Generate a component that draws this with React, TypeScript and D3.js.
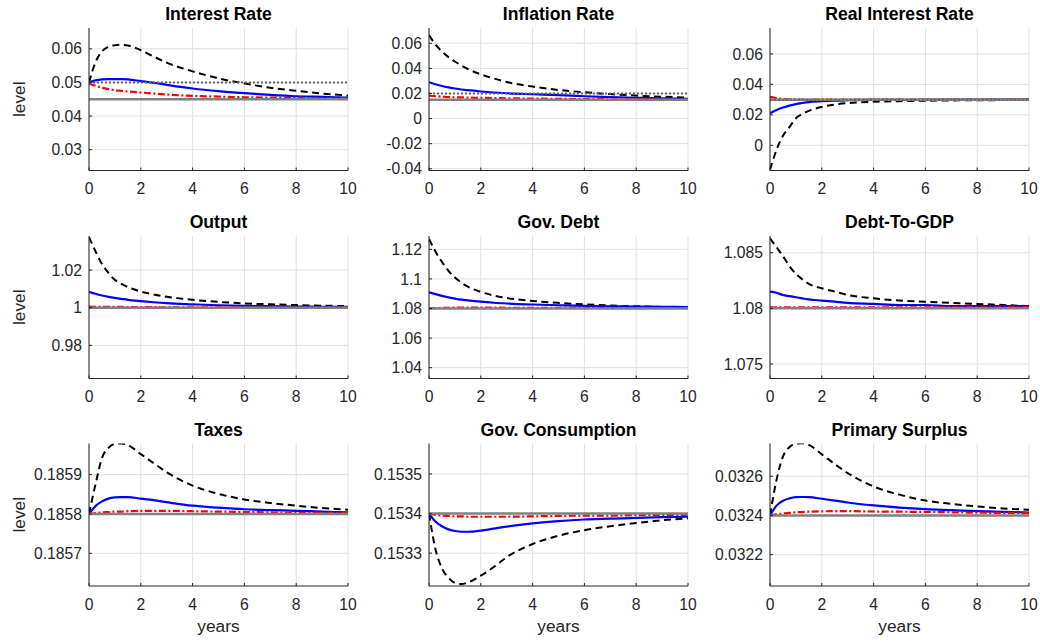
import React from "react";
import * as d3 from "d3";

// ---------- data ----------
const years = [0, 0.25, 0.5, 0.75, 1, 1.25, 1.5, 2, 2.5, 3, 4, 5, 6, 7, 8, 9, 10];
const xTicks = [0, 2, 4, 6, 8, 10];

const titles = [
  "Interest Rate", "Inflation Rate", "Real Interest Rate",
  "Output", "Gov. Debt", "Debt-To-GDP",
  "Taxes", "Gov. Consumption", "Primary Surplus",
];

const yLimits = [
  [0.0238, 0.0662], [-0.0414, 0.0722], [-0.0165, 0.077],
  [0.9624, 1.0381], [1.0327, 1.129], [1.0737, 1.0865],
  [0.185617, 0.185979], [0.153217, 0.153577], [0.03204, 0.032767],
];

const yTickValues = [
  [0.03, 0.04, 0.05, 0.06], [-0.04, -0.02, 0, 0.02, 0.04, 0.06], [0, 0.02, 0.04, 0.06],
  [0.98, 1, 1.02], [1.04, 1.06, 1.08, 1.1, 1.12], [1.075, 1.08, 1.085],
  [0.1857, 0.1858, 0.1859], [0.1533, 0.1534, 0.1535], [0.0322, 0.0324, 0.0326],
];
const yTickLabels = [
  ["0.03", "0.04", "0.05", "0.06"], ["-0.04", "-0.02", "0", "0.02", "0.04", "0.06"], ["0", "0.02", "0.04", "0.06"],
  ["0.98", "1", "1.02"], ["1.04", "1.06", "1.08", "1.1", "1.12"], ["1.075", "1.08", "1.085"],
  ["0.1857", "0.1858", "0.1859"], ["0.1533", "0.1534", "0.1535"], ["0.0322", "0.0324", "0.0326"],
];

const steadyState = [0.045, 0.015, 0.03, 1, 1.08, 1.08, 0.1858, 0.1534, 0.0324];
const targetLevel = [0.05, 0.02, 0.03, null, null, null, null, null, null];

// black dashed
const interestBlack = [0.05, 0.056, 0.0592, 0.0606, 0.0611, 0.0612, 0.061, 0.0596, 0.0577, 0.0559, 0.0533, 0.0512, 0.0497, 0.0484, 0.0475, 0.0467, 0.0461];
const inflationBlack = [0.0665, 0.059, 0.0535, 0.049, 0.0455, 0.0423, 0.0395, 0.0352, 0.032, 0.0292, 0.0255, 0.0228, 0.021, 0.0195, 0.0183, 0.0174, 0.0167];
const realBlack = [-0.016, -0.003, 0.0063, 0.012, 0.0178, 0.0205, 0.0226, 0.0252, 0.0268, 0.0277, 0.0286, 0.029, 0.0293, 0.0295, 0.0296, 0.0297, 0.0298];
const outputBlack = [1.0375, 1.03, 1.0232, 1.0185, 1.0148, 1.0127, 1.011, 1.0086, 1.007, 1.0058, 1.0042, 1.0031, 1.0023, 1.0018, 1.0014, 1.0011, 1.0009];
const debtBlack = [1.127, 1.1185, 1.1115, 1.1055, 1.101, 1.0975, 1.0948, 1.0912, 1.0888, 1.0871, 1.0851, 1.0838, 1.0828, 1.082, 1.0815, 1.0811, 1.0808];
const dgdpBlack = [1.0863, 1.0855, 1.0847, 1.0838, 1.0831, 1.0826, 1.0822, 1.0818, 1.0815, 1.0812, 1.0809, 1.0807, 1.0806, 1.0805, 1.0804, 1.0803, 1.0802];
const taxesBlack = [0.1858, 0.185875, 0.185942, 0.185968, 0.185978, 0.185979, 0.185975, 0.185952, 0.185929, 0.185906, 0.185872, 0.185851, 0.185837, 0.185828, 0.185821, 0.185815, 0.185811];
const govcBlack = [0.1534, 0.15331, 0.153262, 0.153238, 0.153225, 0.153222, 0.153226, 0.153243, 0.153265, 0.15329, 0.153323, 0.153344, 0.153358, 0.153368, 0.153376, 0.153383, 0.153388];
const surplusBlack = [0.0324, 0.03258, 0.0327, 0.032748, 0.032766, 0.032768, 0.03276, 0.032712, 0.032662, 0.032616, 0.032548, 0.032506, 0.032476, 0.032459, 0.032446, 0.032436, 0.032429];

// blue solid
const interestBlue = [0.05, 0.0506, 0.0509, 0.051, 0.051, 0.051, 0.0509, 0.0504, 0.0499, 0.0493, 0.0482, 0.0474, 0.0468, 0.0463, 0.0459, 0.0457, 0.0455];
const inflationBlue = [0.029, 0.0274, 0.026, 0.0249, 0.024, 0.0232, 0.0226, 0.0216, 0.0208, 0.0202, 0.0194, 0.0187, 0.0178, 0.0171, 0.0166, 0.0162, 0.0158];
const realBlue = [0.0211, 0.0232, 0.0248, 0.0261, 0.0271, 0.0278, 0.0284, 0.029, 0.0294, 0.0296, 0.0298, 0.0299, 0.0299, 0.03, 0.03, 0.03, 0.03];
const outputBlue = [1.0085, 1.0074, 1.0065, 1.0058, 1.0052, 1.0047, 1.0042, 1.0035, 1.0029, 1.0024, 1.0018, 1.0013, 1.001, 1.0008, 1.0006, 1.0005, 1.0004];
const debtBlue = [1.091, 1.0897, 1.0885, 1.0875, 1.0867, 1.086, 1.0855, 1.0846, 1.0839, 1.0834, 1.0827, 1.0822, 1.0818, 1.0815, 1.0813, 1.0811, 1.081];
const dgdpBlue = [1.0815, 1.0814, 1.0812, 1.0811, 1.081, 1.0809, 1.0808, 1.0807, 1.0806, 1.0805, 1.0804, 1.0803, 1.0803, 1.0802, 1.0802, 1.0802, 1.0802];
const taxesBlue = [0.1858, 0.18582, 0.185832, 0.185839, 0.185842, 0.185843, 0.185843, 0.185839, 0.185835, 0.18583, 0.185821, 0.185816, 0.185812, 0.18581, 0.185808, 0.185806, 0.185804];
const govcBlue = [0.1534, 0.15338, 0.153368, 0.15336, 0.153356, 0.153354, 0.153354, 0.153357, 0.153362, 0.153367, 0.153375, 0.153381, 0.153385, 0.153387, 0.153389, 0.153391, 0.153392];
const surplusBlue = [0.0324, 0.03245, 0.032475, 0.032487, 0.032493, 0.032494, 0.032493, 0.032485, 0.032476, 0.032466, 0.032451, 0.03244, 0.032432, 0.032427, 0.032422, 0.032418, 0.032415];

// red dash-dot
const interestRed = [0.0497, 0.049, 0.0484, 0.048, 0.0477, 0.0475, 0.0473, 0.047, 0.0467, 0.0464, 0.046, 0.0458, 0.0456, 0.0455, 0.0454, 0.0453, 0.0453];
const inflationRed = [0.0182, 0.0178, 0.0175, 0.0172, 0.017, 0.0169, 0.0167, 0.0165, 0.0163, 0.0162, 0.0159, 0.0157, 0.0155, 0.0154, 0.0153, 0.0152, 0.0152];
const realRed = [0.0318, 0.0309, 0.0304, 0.0302, 0.0301, 0.03, 0.03, 0.03, 0.03, 0.03, 0.03, 0.03, 0.03, 0.03, 0.03, 0.03, 0.03];
const outputRed = [1.0006, 1.0005, 1.0005, 1.0004, 1.0004, 1.0004, 1.0003, 1.0003, 1.0003, 1.0002, 1.0002, 1.0002, 1.0001, 1.0001, 1.0001, 1.0001, 1.0001];
const debtRed = [1.0802, 1.0803, 1.0804, 1.0805, 1.0806, 1.0806, 1.0806, 1.0806, 1.0806, 1.0805, 1.0805, 1.0804, 1.0804, 1.0803, 1.0803, 1.0803, 1.0803];
const dgdpRed = [1.0801, 1.0801, 1.0801, 1.0801, 1.0801, 1.0801, 1.0801, 1.0801, 1.0801, 1.0801, 1.0801, 1.0801, 1.0801, 1.0801, 1.0801, 1.0801, 1.0801];
const taxesRed = [0.1858, 0.185802, 0.185804, 0.185805, 0.185806, 0.185806, 0.185807, 0.185808, 0.185808, 0.185808, 0.185807, 0.185806, 0.185805, 0.185804, 0.185803, 0.185803, 0.185802];
const govcRed = [0.1534, 0.153397, 0.153395, 0.153394, 0.153393, 0.153393, 0.153392, 0.153392, 0.153392, 0.153392, 0.153393, 0.153394, 0.153395, 0.153395, 0.153396, 0.153396, 0.153397];
const surplusRed = [0.0324, 0.032405, 0.03241, 0.032413, 0.032416, 0.032417, 0.032419, 0.032421, 0.032422, 0.032422, 0.03242, 0.032419, 0.032418, 0.032416, 0.032414, 0.032413, 0.032412];

const blackSeries = [interestBlack, inflationBlack, realBlack, outputBlack, debtBlack, dgdpBlack, taxesBlack, govcBlack, surplusBlack];
const blueSeries = [interestBlue, inflationBlue, realBlue, outputBlue, debtBlue, dgdpBlue, taxesBlue, govcBlue, surplusBlue];
const redSeries = [interestRed, inflationRed, realRed, outputRed, debtRed, dgdpRed, taxesRed, govcRed, surplusRed];

// ---------- layout ----------
const W = 1040;
const H = 644;
const colLeft = [89, 429, 770];
const rowTop = [28, 236, 443.5];
const plotW = 259;
const plotH = 142.5;
const FONT = "'Liberation Sans', Arial, Helvetica, sans-serif";
const AX = "#262626";

function Panel({ i }: { i: number }) {
  const r = Math.floor(i / 3);
  const c = i % 3;
  const x0 = colLeft[c];
  const y0 = rowTop[r];
  const x = d3.scaleLinear().domain([0, 10]).range([x0, x0 + plotW]);
  const y = d3.scaleLinear().domain(yLimits[i]).range([y0 + plotH, y0]);
  const line = d3
    .line<number>()
    .x((_, k) => x(years[k]))
    .y((v) => y(v))
    .curve(d3.curveMonotoneX);
  const flat = (v: number) => years.map(() => v);
  const clipId = `clip${i}`;
  const yb = y0 + plotH;
  const tgt = targetLevel[i];
  return (
    <g>
      <defs>
        <clipPath id={clipId}>
          <rect x={x0} y={y0} width={plotW} height={plotH} />
        </clipPath>
      </defs>
      {/* grid */}
      {xTicks.map((t) => (
        <line key={"gx" + t} x1={x(t)} x2={x(t)} y1={y0} y2={yb} stroke="#dfdfdf" strokeWidth={1} />
      ))}
      {yTickValues[i].map((t) => (
        <line key={"gy" + t} x1={x0} x2={x0 + plotW} y1={y(t)} y2={y(t)} stroke="#dfdfdf" strokeWidth={1} />
      ))}
      <g clipPath={`url(#${clipId})`} fill="none" strokeLinejoin="round">
        <path d={line(blackSeries[i]) || ""} stroke="#000" strokeWidth={2} strokeDasharray="7 4.5" />
        <path d={line(blueSeries[i]) || ""} stroke="#0000ff" strokeWidth={2.2} />
        <path d={line(redSeries[i]) || ""} stroke="#ff0000" strokeWidth={2.2} strokeDasharray="7 2.5 2 2.5" />
        <path d={line(flat(steadyState[i])) || ""} stroke="#808080" strokeWidth={2.5} />
        {tgt !== null && (
          <path d={line(flat(tgt as number)) || ""} stroke="#666" strokeWidth={2} strokeDasharray="2 2" />
        )}
      </g>
      {/* axes */}
      <line x1={x0} x2={x0} y1={y0} y2={yb} stroke={AX} strokeWidth={1} />
      <line x1={x0} x2={x0 + plotW} y1={yb} y2={yb} stroke={AX} strokeWidth={1} />
      {xTicks.map((t) => (
        <g key={"xt" + t}>
          <line x1={x(t)} x2={x(t)} y1={yb} y2={yb - 3} stroke={AX} strokeWidth={1} />
          <text x={x(t)} y={yb + 23.5} textAnchor="middle" fontSize={15.7} fill={AX} fontFamily={FONT}>
            {t}
          </text>
        </g>
      ))}
      {yTickValues[i].map((t, k) => (
        <g key={"yt" + t}>
          <line x1={x0} x2={x0 + 3} y1={y(t)} y2={y(t)} stroke={AX} strokeWidth={1} />
          <text x={x0 - 7} y={y(t) + 5.6} textAnchor="end" fontSize={15.7} fill={AX} fontFamily={FONT}>
            {yTickLabels[i][k]}
          </text>
        </g>
      ))}
      <text x={x0 + plotW / 2} y={y0 - 8} textAnchor="middle" fontSize={17.6} fontWeight="bold" fill="#000" fontFamily={FONT}>
        {titles[i]}
      </text>
      {c === 0 && (
        <text transform={`translate(${25},${y0 + plotH / 2}) rotate(-90)`} textAnchor="middle" fontSize={17.3} fill={AX} fontFamily={FONT}>
          level
        </text>
      )}
      {r === 2 && (
        <text x={x0 + plotW / 2} y={yb + 46} textAnchor="middle" fontSize={17.3} fill={AX} fontFamily={FONT}>
          years
        </text>
      )}
    </g>
  );
}

export default function App() {
  return (
    <svg
      width={W}
      height={H}
      viewBox={`0 0 ${W} ${H}`}
      style={{ position: "absolute", left: 0, top: 0, background: "#fff" }}
    >
      <rect x={0} y={0} width={W} height={H} fill="#fff" />
      {titles.map((_, i) => (
        <Panel key={i} i={i} />
      ))}
    </svg>
  );
}
